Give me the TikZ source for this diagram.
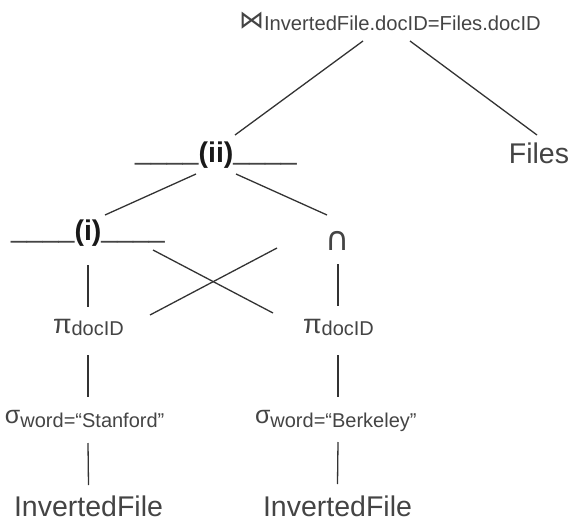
\documentclass[tikz,border=0pt]{standalone}
\usepackage{fontspec}
\setmainfont{Liberation Sans}
\newfontfamily\djv{DejaVu Sans}
\definecolor{txt}{HTML}{444444}
\definecolor{ln}{HTML}{333333}
\newcommand{\lsub}[2]{\raisebox{-#1}{\fontsize{20}{21}\selectfont #2}}
\newcommand{\blank}{\raisebox{2.5pt}{\color{txt}\_\_\_\_}}
\tikzset{
  lab/.style={inner sep=0pt, outer sep=0pt, text=txt, font=\fontsize{28.5}{30}\selectfont},
  tag/.style={inner sep=0pt, outer sep=0pt, text=black!90, font=\fontsize{28.5}{30}\selectfont},
  conn/.style={draw=ln, line width=1.3pt}
}
\begin{document}
\begin{tikzpicture}[x=1pt,y=-1pt]
\useasboundingbox (0,0) rectangle (578,532);
% nodes
\node[lab, anchor=base west] (jn) at (239,31) {{\djv\fontsize{25}{26}\selectfont\raisebox{2pt}{⋈}}\fontsize{20.2}{21}\selectfont InvertedFile.docID=Files.docID};
\node[lab, anchor=base] (files) at (539,163) {Files};
\node[tag, anchor=base] (ii) at (216,162) {\blank\textbf{(ii)}\blank};
\node[tag, anchor=base] (i) at (88,240) {\blank\textbf{(i)}\blank};
\node[lab, anchor=base] (cap) at (338,250) {{\djv\fontsize{33}{34}\selectfont ∩}};
\node[lab, anchor=base west] (pl) at (53,333) {{\fontsize{27}{28}\selectfont π}\lsub{2pt}{docID}};
\node[lab, anchor=base west] (pr) at (303,333) {{\fontsize{27}{28}\selectfont π}\lsub{2pt}{docID}};
\node[lab, anchor=base west] (sl) at (5,423) {{\fontsize{25}{26}\selectfont σ}\lsub{4pt}{word=“Stanford”}};
\node[lab, anchor=base west] (sr) at (255,423) {{\fontsize{25}{26}\selectfont σ}\lsub{4pt}{word=“Berkeley”}};
\node[lab, anchor=base] (il) at (88.5,516) {InvertedFile};
\node[lab, anchor=base] (ir) at (337.5,516) {InvertedFile};
% connectors
\draw[conn] ([shift={(124,10)}]jn.base west) -- ([shift={(19,-27)}]ii.base);
\draw[conn] ([shift={(171,10)}]jn.base west) -- ([shift={(-2,-28)}]files.base);
\draw[conn] ([shift={(-20,12)}]ii.base) -- ([shift={(17,-25)}]i.base);
\draw[conn] ([shift={(20,12)}]ii.base) -- ([shift={(-11,-35)}]cap.base);
\draw[conn] ([shift={(0,25)}]i.base) -- ([shift={(35,-26)}]pl.base west);
\draw[conn] ([shift={(65,10)}]i.base) -- ([shift={(-30,-20)}]pr.base west);
\draw[conn] ([shift={(0,14)}]cap.base) -- ([shift={(35,-27)}]pr.base west);
\draw[conn] ([shift={(-61,-2)}]cap.base) -- ([shift={(97,-18)}]pl.base west);
\draw[conn] ([shift={(35,22)}]pl.base west) -- ([shift={(83,-26)}]sl.base west);
\draw[conn] ([shift={(35,22)}]pr.base west) -- ([shift={(83,-26)}]sr.base west);
\draw[conn] ([shift={(83,20)}]sl.base west) -- ([shift={(0,-31)}]il.base);
\draw[conn] ([shift={(83,19)}]sr.base west) -- ([shift={(0,-32)}]ir.base);
\end{tikzpicture}
\end{document}
